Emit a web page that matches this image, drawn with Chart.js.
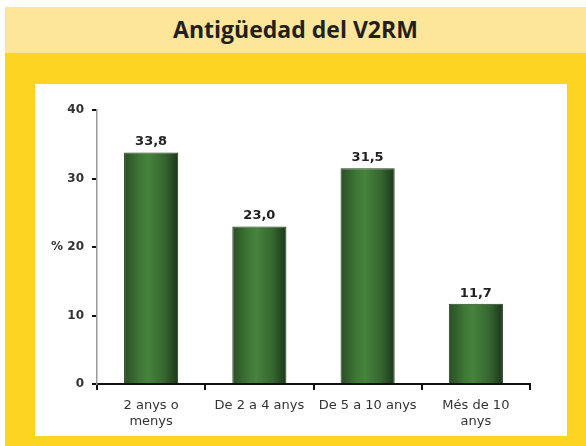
<!DOCTYPE html>
<html>
<head>
<meta charset="utf-8">
<script src="https://cdn.jsdelivr.net/npm/chart.js@4"></script>
<style>
  body { margin: 0; background: #fff; width: 586px; height: 446px; overflow: hidden; }
  #frame { position: absolute; left: 5px; top: 7px; width: 581px; height: 439px; background: #fed422; }
  #title { height: 46px; background: #fde69a; text-align: center; line-height: 44px;
           font-family: "Open Sans", sans-serif; font-weight: bold; font-size: 23px; color: #231f20; }
  #panel { position: absolute; left: 30px; top: 77px; width: 532px; height: 352px; background: #fff; }
</style>
</head>
<body>
<div id="frame">
  <div id="title">Antigüedad del V2RM</div>
  <div id="panel"><canvas id="chart" width="532" height="352"></canvas></div>
</div>
<script>
const categories = [['2 anys o', 'menys'], 'De 2 a 4 anys', 'De 5 a 10 anys', ['Més de 10', 'anys']];
const values = [33.8, 23.0, 31.5, 11.7];
const yTicks = [0, 10, 20, 30, 40];

function barFill(c){
  const chart = c.chart;
  if (!chart.chartArea) return '#3d7a35';
  const xs = chart.scales.x;
  const cx = xs.getPixelForValue(c.dataIndex);
  const w = xs.width / categories.length * 0.5;
  const g = chart.ctx.createLinearGradient(cx - w/2, 0, cx + w/2, 0);
  g.addColorStop(0, '#2a4f25');
  g.addColorStop(0.3, '#3f7836');
  g.addColorStop(0.45, '#46833c');
  g.addColorStop(0.75, '#35662f');
  g.addColorStop(1, '#1c3619');
  return g;
}

// value labels above the bars
const valueLabels = {
  id: 'valueLabels',
  afterDatasetsDraw(chart){
    const ctx = chart.ctx;
    ctx.save();
    ctx.font = 'bold 13px "DejaVu Sans"';
    ctx.fillStyle = '#222';
    ctx.textAlign = 'center';
    ctx.textBaseline = 'bottom';
    chart.getDatasetMeta(0).data.forEach((bar, i)=>{
      ctx.fillText(values[i].toFixed(1).replace('.', ','), bar.x, bar.y - 4);
    });
    ctx.restore();
  }
};

new Chart(document.getElementById('chart'), {
  type: 'bar',
  data: {
    labels: categories,
    datasets: [{
      data: values,
      backgroundColor: barFill,
      borderColor: '#223d1e',
      borderWidth: 1,
      barPercentage: 0.5,
      categoryPercentage: 1
    }]
  },
  options: {
    responsive: false,
    animation: false,
    layout: { padding: { top: 26, right: 37, left: 0, bottom: 0 } },
    plugins: { legend: { display: false }, tooltip: { enabled: false } },
    scales: {
      x: {
        afterFit: s => { s.height = 52; },
        grid: { offset: true, drawOnChartArea: false, color: '#111', tickLength: 6, lineWidth: 2 },
        border: { color: '#111', width: 2 },
        ticks: { color: '#333', padding: 8, font: { family: 'DejaVu Sans', size: 13 } }
      },
      y: {
        min: 0, max: 40,
        afterFit: s => { s.width = 62; },
        afterBuildTicks: s => { s.ticks = yTicks.map(v => ({ value: v })); },
        grid: { drawOnChartArea: false, color: '#111', tickLength: 5, lineWidth: 2 },
        border: { color: '#999', width: 1.5 },
        ticks: {
          color: '#333', padding: 8,
          font: { family: 'DejaVu Sans', size: 12, weight: 'bold' },
          callback: v => v === 20 ? '% 20' : v
        }
      }
    }
  },
  plugins: [valueLabels]
});
</script>
</body>
</html>
